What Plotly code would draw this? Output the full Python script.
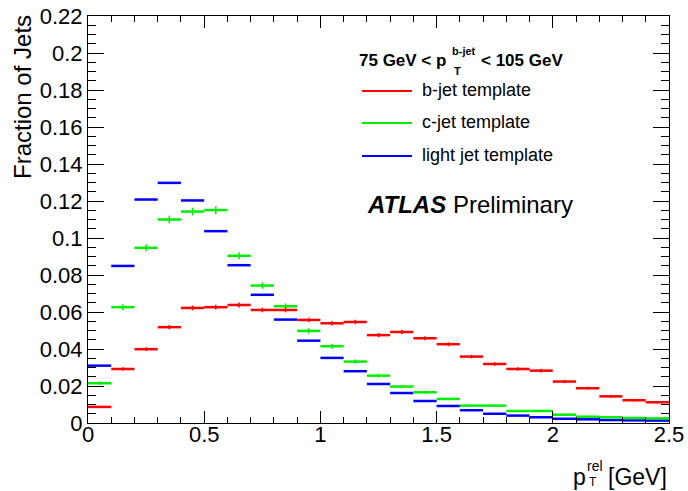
import plotly.graph_objects as go

bin_low = [round(0.1 * i, 1) for i in range(25)]
bin_width = 0.1
x_centers = [b + bin_width / 2 for b in bin_low]

b_jet = [0.0087, 0.0292, 0.0399, 0.0518, 0.0622, 0.0626, 0.0638, 0.0611, 0.0611, 0.0557,
         0.0539, 0.0546, 0.0475, 0.0492, 0.0458, 0.0426, 0.0359, 0.0319, 0.0292, 0.0283,
         0.0224, 0.0188, 0.0144, 0.0123, 0.0112]
b_err = [0.0006, 0.0010, 0.0010, 0.0012, 0.0013, 0.0013, 0.0013, 0.0013, 0.0013, 0.0012,
         0.0012, 0.0012, 0.0011, 0.0012, 0.0011, 0.0011, 0.0010, 0.0010, 0.0010, 0.0010,
         0.0009, 0.0008, 0.0007, 0.0007, 0.0007]
c_jet = [0.0215, 0.0626, 0.0947, 0.1100, 0.1143, 0.1151, 0.0904, 0.0743, 0.0631, 0.0498,
         0.0415, 0.0332, 0.0256, 0.0197, 0.0166, 0.0130, 0.0094, 0.0094, 0.0065, 0.0065,
         0.0045, 0.0034, 0.0031, 0.0027, 0.0025]
c_err = [0.0010, 0.0016, 0.0019, 0.0021, 0.0021, 0.0021, 0.0019, 0.0017, 0.0016, 0.0014,
         0.0013, 0.0012, 0.0010, 0.0009, 0.0008, 0.0007, 0.0006, 0.0006, 0.0005, 0.0005,
         0.0004, 0.0004, 0.0003, 0.0003, 0.0003]
light_jet = [0.0310, 0.0849, 0.1208, 0.1298, 0.1203, 0.1037, 0.0853, 0.0693, 0.0559, 0.0445,
             0.0352, 0.0280, 0.0211, 0.0162, 0.0119, 0.0092, 0.0069, 0.0050, 0.0040, 0.0031,
             0.0023, 0.0020, 0.0016, 0.0014, 0.0013]

x_ticks = [0, 0.5, 1, 1.5, 2, 2.5]
x_tick_text = ["0", "0.5", "1", "1.5", "2", "2.5"]
y_ticks = [0, 0.02, 0.04, 0.06, 0.08, 0.1, 0.12, 0.14, 0.16, 0.18, 0.2, 0.22]
y_tick_text = ["0", "0.02", "0.04", "0.06", "0.08", "0.1", "0.12", "0.14", "0.16", "0.18", "0.2", "0.22"]

legend_labels = ["b-jet template", "c-jet template", "light jet template"]
colors = ["#ff0000", "#00ee00", "#0000ff"]

fig = go.Figure()


def add_hist(y, err, color, thick):
    ey = dict(type="data", array=err, width=0, thickness=1.5, color=color, visible=True) if err else dict(visible=False)
    fig.add_trace(go.Scatter(
        x=x_centers, y=y, mode="markers",
        marker=dict(size=1, color=color),
        error_x=dict(type="constant", value=bin_width / 2, width=0, thickness=thick, color=color),
        error_y=ey,
        showlegend=False, hoverinfo="skip"))


add_hist(light_jet, None, colors[2], 2.5)
add_hist(c_jet, c_err, colors[1], 2.5)
add_hist(b_jet, b_err, colors[0], 2.5)

W, H = 688, 491
L, R, T, B = 88, 19, 16, 68
pw, ph = W - L - R, H - T - B


def px(xp):
    return (xp - L) / pw


def py(yp):
    return (H - B - yp) / ph


font_family = "Liberation Sans, Arial, Helvetica, sans-serif"


def ann(text, x, y, size, xanchor="left", yanchor="middle", angle=0):
    return dict(text=text, x=px(x), y=py(y), xanchor=xanchor, yanchor=yanchor, textangle=angle,
                font=dict(size=size, color="black"), xref="paper", yref="paper", showarrow=False)


annotations = [
    # legend header: 75 GeV < p_T^{b-jet} < 105 GeV
    ann("<b>75 GeV &lt; p</b>", 357, 60, 17),
    ann("<b>b-jet</b>", 450, 51, 11),
    ann("<b>T</b>", 452, 71, 11),
    ann("<b>&lt; 105 GeV</b>", 479, 60, 17),
    ann("<b><i>ATLAS</i></b> Preliminary", 365, 204, 24),
    ann("Fraction of Jets", 22, 13, 24, xanchor="center", yanchor="top", angle=-90),
    # x title: p_T^{rel} [GeV]
    ann("p", 571, 477, 23),
    ann("rel", 585, 466, 14),
    ann("T", 587, 482, 12),
    ann("[GeV]", 606, 477, 23),
]
shapes = []
for i, (lab, col) in enumerate(zip(legend_labels, colors)):
    yy = [91, 123, 156][i]
    shapes.append(dict(type="line", xref="paper", yref="paper", x0=px(362), x1=px(412), y0=py(yy), y1=py(yy),
                       line=dict(color=col, width=2)))
    annotations.append(ann(lab, 420, yy - 1, 18))

fig.update_layout(
    width=W, height=H,
    margin=dict(l=L, r=R, t=T, b=B, pad=0, autoexpand=False),
    paper_bgcolor="white", plot_bgcolor="white",
    font=dict(family=font_family, color="black"),
    annotations=annotations, shapes=shapes,
    xaxis=dict(range=[0, 2.5], tickvals=x_ticks, ticktext=x_tick_text, ticks="inside", ticklen=12,
               tickwidth=1, tickcolor="black", showgrid=False, zeroline=False, showline=True,
               linecolor="black", linewidth=1, mirror="ticks", tickfont=dict(size=22), automargin=False,
               ticklabelstandoff=-8,
               minor=dict(dtick=0.1, ticks="inside", ticklen=6, tickcolor="black", showgrid=False)),
    yaxis=dict(range=[0, 0.22], tickvals=y_ticks, ticktext=y_tick_text, ticks="inside", ticklen=16,
               tickwidth=1, tickcolor="black", showgrid=False, zeroline=False, showline=True,
               linecolor="black", linewidth=1, mirror="ticks", tickfont=dict(size=22), automargin=False,
               minor=dict(dtick=0.005, tick0=0, ticks="inside", ticklen=8, tickcolor="black", showgrid=False)),
)

fig.write_html("out.html", config={"displayModeBar": False},
               post_script="document.body.style.margin='0';document.body.style.overflow='hidden';")
